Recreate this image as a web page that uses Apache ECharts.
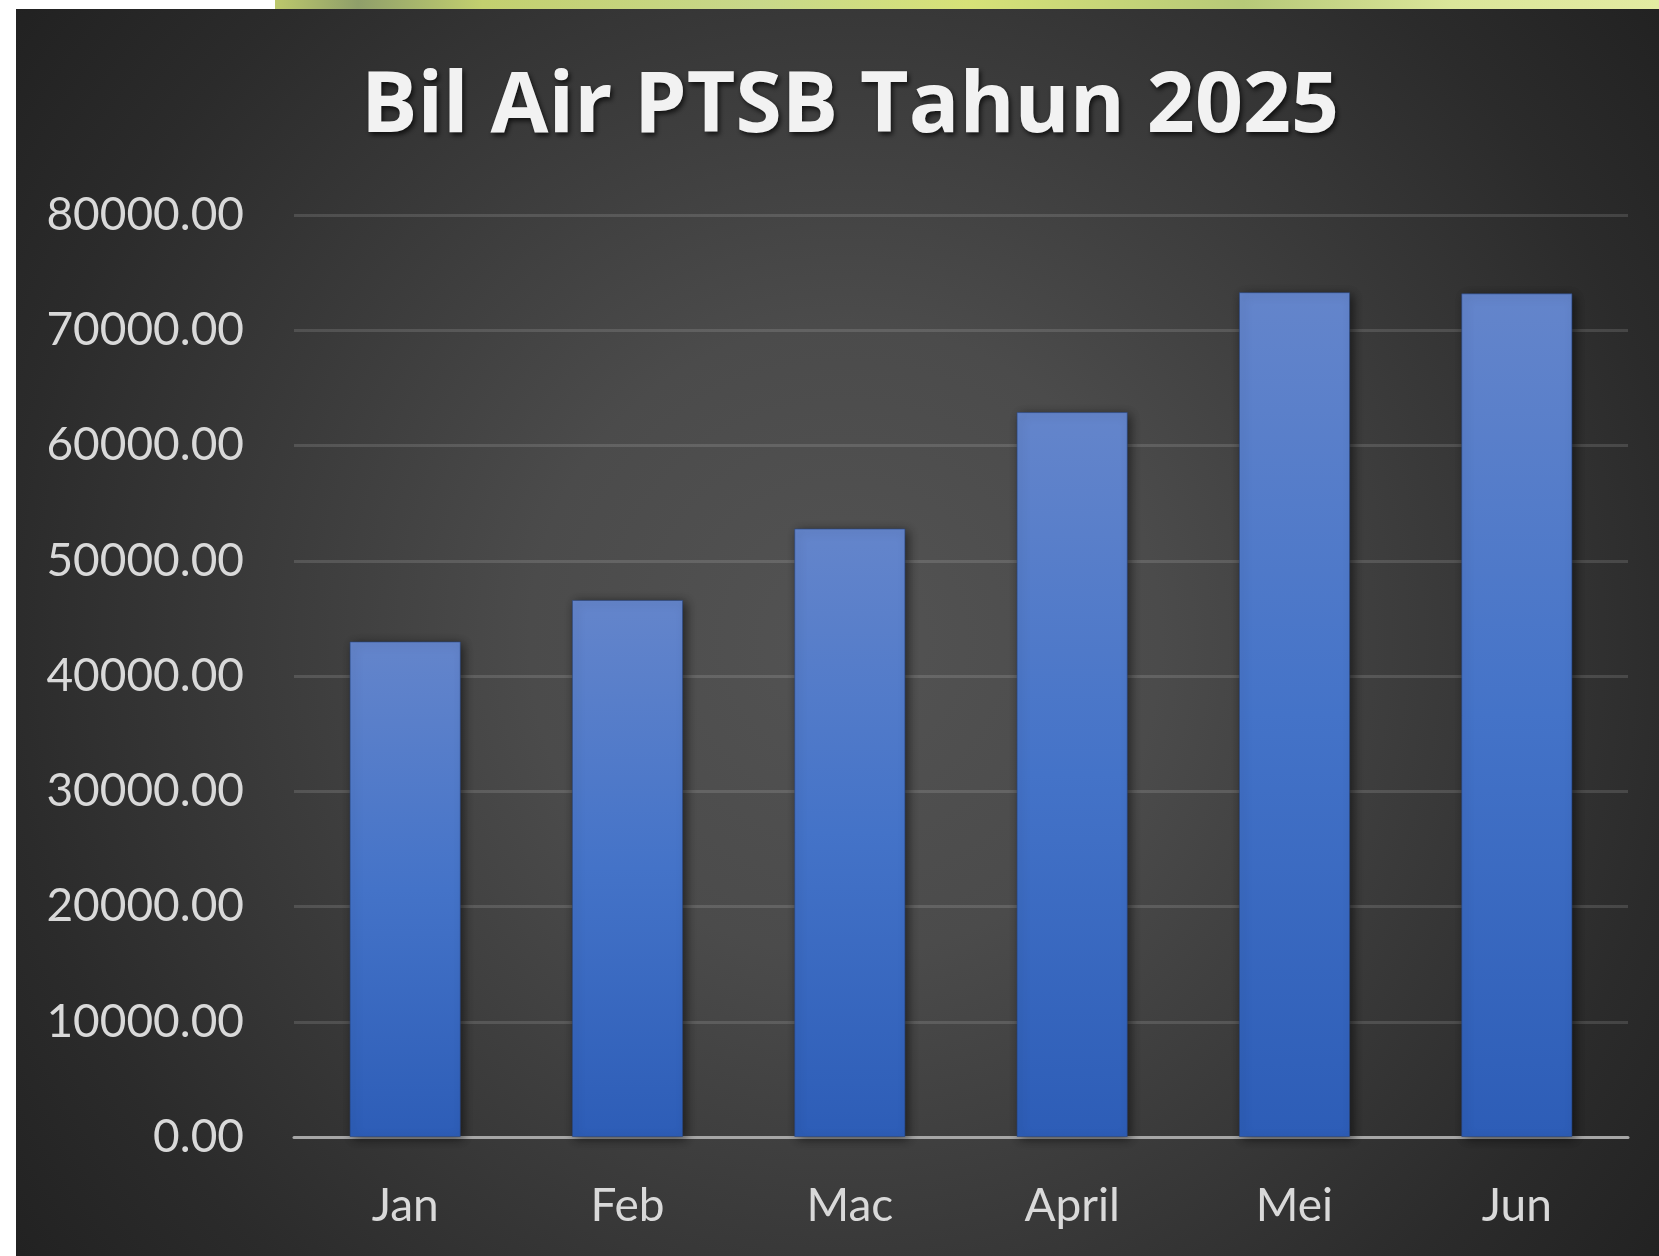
<!DOCTYPE html>
<html>
<head>
<meta charset="utf-8">
<title>Bil Air PTSB Tahun 2025</title>
<script src="https://cdn.jsdelivr.net/npm/echarts@6/dist/echarts.min.js"></script>
<style>
  html, body { margin: 0; padding: 0; background: #fff; }
  #echart { width: 1659px; height: 1256px; }
</style>
</head>
<body>
<div id="echart"></div>
<script>
// data
let months = ['Jan', 'Feb', 'Mac', 'April', 'Mei', 'Jun'];
let bil = [43000, 46600, 52800, 62900, 73300, 73200];
let yMax = 80000;
let yStep = 10000;

let myChart = echarts.init(document.getElementById('echart'), null, { renderer: 'canvas' });

let FONT = 'Lato, "Open Sans", sans-serif';

let option = {
  backgroundColor: '#ffffff',
  animation: false,
  graphic: [
    {
      // strip of the slide behind the chart
      type: 'rect', z: -10, silent: true,
      shape: { x: 275, y: 0, width: 1384, height: 9 },
      style: {
        fill: {
          type: 'linear', x: 0, y: 0, x2: 1, y2: 0,
          colorStops: [
            { offset: 0, color: '#bcc86c' },
            { offset: 0.06, color: '#8f9f6a' },
            { offset: 0.15, color: '#c3d06f' },
            { offset: 0.35, color: '#c8d88a' },
            { offset: 0.5, color: '#d7e278' },
            { offset: 0.7, color: '#b7c978' },
            { offset: 0.85, color: '#dbe69a' },
            { offset: 1, color: '#e3eba2' }
          ]
        }
      }
    },
    {
      type: 'rect', z: -10, silent: true,
      shape: { x: 16, y: 9, width: 1643, height: 1247 },
      style: {
        fill: {
          type: 'radial', x: 845, y: 640, r: 1050, global: true,
          colorStops: [
            { offset: 0, color: '#535353' },
            { offset: 0.3, color: '#4b4b4b' },
            { offset: 0.55, color: '#3b3b3b' },
            { offset: 0.8, color: '#2b2b2b' },
            { offset: 1, color: '#212121' }
          ]
        }
      }
    }
  ],
  title: {
    text: 'Bil Air PTSB Tahun 2025',
    left: 845,
    top: 61,
    textAlign: 'center',
    textStyle: {
      color: '#f2f2f2',
      fontFamily: '"Open Sans", Lato, sans-serif',
      fontWeight: 'bold',
      fontSize: 84,
      textShadowColor: 'rgba(0,0,0,0.7)',
      textShadowBlur: 5,
      textShadowOffsetX: 2,
      textShadowOffsetY: 3
    }
  },
  grid: {
    left: 294,
    right: 31,
    top: 215,
    bottom: 119,
    containLabel: false
  },
  xAxis: {
    type: 'category',
    data: months,
    axisTick: { show: false },
    axisLine: { show: true, lineStyle: { color: '#a6a6a6', width: 3 } },
    axisLabel: {
      color: '#d9d9d9',
      fontFamily: FONT,
      fontSize: 46,
      margin: 46
    }
  },
  yAxis: {
    type: 'value',
    min: 0,
    max: yMax,
    interval: yStep,
    axisLine: { show: false },
    axisTick: { show: false },
    splitLine: { lineStyle: { color: 'rgba(255,255,255,0.13)', width: 3 } },
    axisLabel: {
      color: '#d9d9d9',
      fontFamily: FONT,
      fontSize: 46,
      margin: 50,
      formatter: function (v) { return v.toFixed(2); }
    }
  },
  series: [
    {
      name: 'Bil Air',
      type: 'bar',
      barWidth: '50%',
      data: bil,
      itemStyle: {
        color: {
          type: 'linear', x: 0, y: 0, x2: 0, y2: 1,
          colorStops: [
            { offset: 0, color: '#6485cb' },
            { offset: 0.5, color: '#4473c8' },
            { offset: 1, color: '#2d5db7' }
          ]
        },
        borderColor: 'rgba(40,70,130,0.6)',
        borderWidth: 1,
        shadowColor: 'rgba(0,0,0,0.55)',
        shadowBlur: 10,
        shadowOffsetX: 3,
        shadowOffsetY: 2
      }
    }
  ]
};

myChart.setOption(option);
</script>
</body>
</html>
